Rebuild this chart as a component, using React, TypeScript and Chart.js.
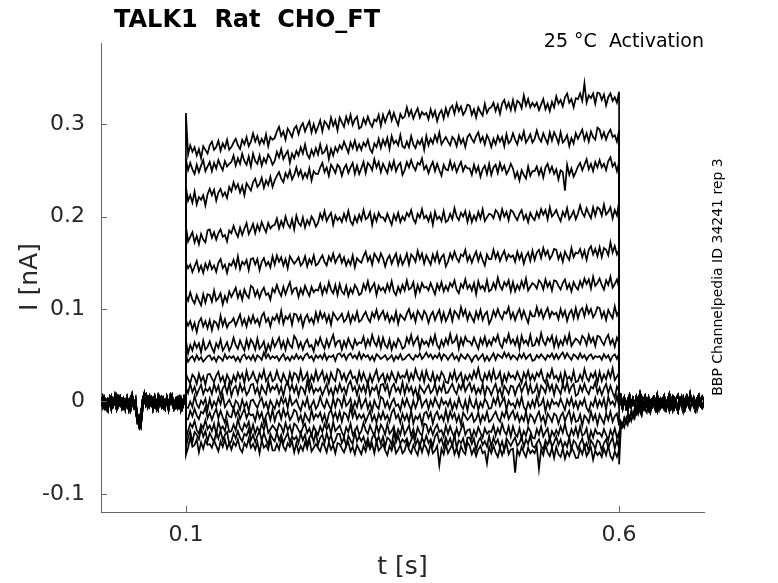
import React, { useEffect, useRef } from "react";
import { Chart, registerables } from "chart.js";

Chart.register(...registerables);

// ---------- text ----------
const TITLE = "TALK1  Rat  CHO_FT";
const CONDITION = "25 °C  Activation";
const NOTE = "BBP Channelpedia ID 34241 rep 3";
const X_TITLE = "t [s]";
const Y_TITLE = "I [nA]";

// ---------- axes ----------
const X_TICKS = [0.1, 0.6];
const Y_TICKS = [-0.1, 0, 0.1, 0.2, 0.3];
const X_RANGE = [0.002, 0.698];
const Y_RANGE = [-0.1195, 0.3876];

// ---------- sampling (seconds) ----------
const PRE_START = 0.002;
const PRE_STEP = 0.002; // 50 samples up to 0.100 s
const STEP_ON = 0.1;
const STEP_DT = 0.0025; // 200 samples from 0.1025 s to 0.600 s
const POST_START = 0.6;
const POST_STEP = 0.002; // 50 samples up to 0.698 s

// ---------- holding current before the step (pA) ----------
const PRE_A = [3, -4, 1, -7, 2, -2, 5, -5, 0, -8, 4, -3, 2, -6, 1, -1, -9, 3, -4, 0, -6, -14, -24, -12, -3, 6, -2, 4, -5, 1, -3, 5, -7, 2, -1, 4, -6, 0, 3, -4, 6, -2, -8, 1, 4, -5, 2, -3, 5, 0];
const PRE_B = [-2, 5, -6, 1, -3, 4, -8, 2, -1, 6, -5, 0, -7, 3, -2, 5, -4, -10, 1, -6, 2, -19, -27, -16, 2, 9, -4, 1, 6, -3, 3, -5, 0, -8, 4, -2, 1, -7, 5, -3, -1, 6, -4, 2, -6, 3, -9, 1, -2, 4];
const PRE_C = [1, -6, 4, -2, -9, 3, 0, -4, 6, -7, -1, 5, -3, 2, -8, 4, 0, -5, 7, -2, -9, -22, -18, -26, -8, 3, 7, -6, 0, 4, -8, 2, -4, 6, -1, -6, 3, -3, 1, -9, 2, 5, -2, -6, 3, -1, 4, -7, 0, 2];

// ---------- current after the step (pA) ----------
const POST_A = [0, 6, -3, 4, -6, 2, 7, -2, 3, -5, 5, -1, 8, -4, 1, 6, -3, 4, -7, 2, 5, -2, 7, -5, 3, 0, 6, -4, 2, 8, -3, 4, -6, 3, 7, -1, 5, -4, 2, 6, -3, 8, -2, 4, -5, 3, 7, -1, 5, 1];
const POST_B = [-4, -1, -8, 2, -5, -10, 0, -6, 3, -3, -9, 1, -4, 4, -7, -1, 2, -8, 0, -5, 3, -3, -10, 1, -6, 2, -4, -9, 0, 4, -7, -2, 3, -5, -11, 0, -3, 4, -8, -1, 2, -6, -3, 3, -9, -2, 1, -5, -7, 0];
const POST_C = [-68, -30, -24, -28, -19, -25, -16, -21, -12, -18, -9, -14, -6, -11, -3, -8, -12, -2, -7, 1, -5, -10, -1, -6, 2, -4, -9, 0, -5, -11, -2, -7, 1, -4, -8, 0, -6, -12, -3, 2, -5, -9, -1, -6, 0, -10, -3, 1, -7, -4];
const POST_D = [-40, -22, -27, -18, -23, -14, -20, -11, -17, -8, -13, -5, -10, -15, -4, -9, -1, -6, -12, -3, 1, -7, -2, -9, 0, -5, 3, -8, -2, -6, 2, -10, -4, 0, -7, -1, 4, -5, -9, -2, 1, -6, -3, 3, -8, -1, 2, -4, -7, 1];

// ---------- onset transient at t = 0.1 s, one per sweep (pA) ----------
const SPIKES = [312, 262, 232, 190, 150, 115, 88, 66, 50, 30, 15, -6, -20, -40, -50, -58];

// ---------- current during the voltage step, one array per sweep (pA) ----------
const STEP_1 = [267,277,270,275,266,273,263,276,272,268,277,281,272,275,282,271,279,274,283,272,275,280,284,277,273,283,278,286,276,281,290,281,287,278,284,279,289,276,286,283,285,292,297,287,292,283,295,291,286,295,298,289,297,301,292,298,303,291,300,291,297,304,292,303,300,295,307,298,304,293,307,302,297,308,301,310,299,305,308,295,297,306,300,308,301,297,305,303,310,298,310,302,309,314,304,312,305,299,311,306,308,318,309,315,306,312,317,307,313,310,312,305,316,308,314,303,311,315,306,317,309,317,320,311,322,314,319,310,314,321,320,310,316,307,318,313,309,322,312,317,318,323,314,321,311,322,326,317,323,315,326,315,325,323,317,331,320,327,318,323,319,323,315,321,327,316,322,314,324,318,330,322,326,319,329,333,323,327,318,328,327,333,325,344,323,331,328,333,322,334,333,326,332,320,329,333,325,329,323,335];
const STEP_2 = [250,258,251,246,256,248,255,261,249,254,259,249,258,252,261,255,250,260,254,257,259,266,255,263,257,268,260,256,265,254,268,260,257,266,255,263,258,267,263,256,260,270,264,273,262,267,271,258,268,263,271,266,275,268,278,267,263,272,266,274,267,278,268,270,276,262,273,266,275,270,277,273,281,275,269,280,274,282,272,278,272,280,276,283,273,269,279,275,284,274,283,277,285,273,287,279,282,277,288,276,274,281,275,287,278,274,282,278,284,272,287,277,284,279,288,281,291,278,282,286,281,277,286,283,276,287,279,284,275,286,289,284,280,287,291,281,286,278,288,283,275,284,278,287,281,286,276,289,279,282,290,283,278,288,283,292,280,284,289,280,284,293,285,281,290,284,279,291,282,291,286,279,291,280,283,288,276,285,279,290,284,289,294,283,290,281,292,286,283,296,294,285,291,283,290,294,286,288,281,293];
const STEP_3 = [217,223,215,227,213,221,218,223,212,224,230,223,229,217,226,230,222,226,220,232,227,237,230,235,226,233,223,236,232,228,237,241,232,235,242,231,239,234,243,232,239,244,248,241,237,247,242,250,240,245,253,244,250,241,247,242,252,239,249,246,246,253,258,248,253,244,256,252,247,256,253,244,252,256,247,253,258,246,255,246,252,259,247,258,255,250,262,253,259,248,257,252,247,258,251,260,249,255,258,245,250,259,253,261,254,250,258,256,263,251,255,247,254,259,249,257,250,244,256,251,250,260,251,257,248,254,259,249,255,252,252,245,256,248,254,243,251,255,246,257,245,253,256,247,258,250,255,246,250,257,252,242,248,239,250,245,241,254,244,249,249,254,245,252,242,253,257,248,254,246,251,240,250,248,228,256,245,252,243,248,254,258,250,256,262,251,257,249,259,253,261,253,257,250,260,264,254,258,249,259];
const STEP_4 = [173,178,183,172,179,170,181,175,172,185,186,177,183,175,182,186,178,180,173,185,182,190,183,178,188,180,187,193,181,186,192,182,191,185,194,188,183,193,187,190,191,198,187,195,189,200,192,188,197,186,201,193,190,199,188,196,191,200,196,189,193,203,197,206,195,200,204,191,201,196,199,194,203,196,206,195,191,200,194,202,196,207,197,199,205,191,202,195,204,199,199,195,203,197,191,202,196,204,194,200,196,204,200,207,197,193,203,199,208,198,201,195,203,191,205,197,200,195,206,194,196,203,197,209,200,196,204,200,206,194,204,194,201,196,205,198,208,195,199,203,202,198,207,204,197,208,200,205,196,207,205,200,196,203,207,197,202,194,204,199,196,205,199,208,202,207,197,210,200,203,207,200,195,205,200,209,197,201,206,197,203,212,204,200,209,203,198,210,201,210,208,201,213,202,205,210,198,207,201,216];
const STEP_5 = [144,148,140,146,152,141,147,139,149,143,151,143,147,140,150,154,144,148,139,149,147,153,145,157,143,151,148,153,142,154,155,148,154,142,151,155,147,151,145,157,148,158,151,156,147,154,144,157,153,149,152,156,147,150,157,146,154,149,158,147,149,154,158,151,147,157,152,160,150,155,159,150,156,147,153,148,158,145,155,152,150,157,162,152,157,148,160,156,151,160,155,146,154,158,149,155,160,148,157,148,153,160,148,159,156,151,163,154,160,149,158,153,148,159,152,161,150,156,159,146,151,160,154,162,155,151,159,157,164,152,158,150,157,162,152,160,153,147,159,154,154,164,155,161,152,158,163,153,159,156,158,151,162,154,160,149,157,161,152,163,153,161,164,155,166,158,163,154,158,165,164,154,160,151,162,157,153,166,156,161,160,165,156,163,153,164,168,159,165,157,167,156,166,164,158,172,161,168,159,164];
const STEP_6 = [109,118,110,106,115,109,104,116,107,116,115,108,120,109,112,117,105,114,108,119,113,118,123,112,119,110,121,115,112,125,123,114,120,112,119,123,115,117,110,122,118,126,119,114,124,116,123,129,117,122,123,113,122,116,125,119,114,124,118,121,120,127,116,124,118,129,121,117,126,115,127,119,116,125,114,122,117,126,122,115,117,127,121,130,119,124,128,115,125,120,123,118,127,120,130,119,115,124,118,126,120,131,121,123,129,115,126,119,128,123,124,120,128,122,116,127,121,129,119,125,120,128,124,131,121,117,127,123,132,122,126,120,128,116,130,122,125,120,131,119,121,128,122,134,125,121,129,125,131,119,129,119,126,121,130,123,133,120,124,128,126,122,131,128,121,132,124,129,120,131,130,125,121,128,132,122,127,119,129,124,121,130,124,133,127,132,122,135,125,128,133,126,121,131,126,135,123,127,132,123];
const STEP_7 = [82,87,78,85,75,86,90,81,87,79,88,77,87,85,79,93,82,89,80,85,86,90,82,88,94,83,89,81,91,85,93,85,89,82,92,96,86,90,81,91,88,94,86,98,84,92,89,94,83,95,94,87,93,81,90,94,86,90,84,96,87,97,90,95,86,93,83,96,92,88,91,95,86,89,96,85,93,88,97,86,88,93,97,90,86,96,91,99,89,94,98,89,95,86,92,87,97,84,94,91,88,95,100,90,95,86,98,94,89,98,94,85,93,97,88,94,99,87,96,87,92,99,87,98,95,90,102,93,99,88,96,91,86,97,90,99,88,94,97,84,89,98,92,100,93,89,97,95,102,90,96,88,95,100,90,98,91,85,97,92,92,102,93,99,90,96,101,91,97,94,96,89,100,92,98,87,95,99,90,101,90,98,101,92,103,95,100,91,95,102,101,91,97,88,99,94,90,103,93,98];
const STEP_8 = [52,61,55,64,58,63,53,66,56,59,65,58,53,63,58,67,55,59,64,55,60,69,61,57,66,60,55,67,58,67,63,56,68,57,60,65,53,62,56,67,59,64,69,58,65,56,67,61,58,71,67,58,64,56,63,67,59,61,54,66,61,69,62,57,67,59,66,72,60,65,66,56,65,59,68,62,57,67,61,64,63,70,59,67,61,72,64,60,69,58,69,61,58,67,56,64,59,68,64,57,59,69,63,72,61,66,70,57,67,62,65,60,69,62,72,61,57,66,60,68,62,73,63,65,71,57,68,61,70,65,65,61,69,63,57,68,62,70,60,66,61,69,65,72,62,58,68,64,73,63,67,61,69,57,71,63,66,61,72,60,61,68,62,74,65,61,69,65,71,59,69,59,66,61,70,63,73,60,64,68,66,62,71,68,61,72,64,69,60,71,70,65,61,68,72,62,67,59,69,64];
const STEP_9 = [43,47,49,44,50,45,48,43,46,49,50,45,48,43,49,47,44,51,46,49,47,49,44,48,43,49,51,46,49,45,50,44,50,48,45,53,47,51,46,49,47,49,44,48,51,45,48,44,49,46,51,46,49,45,50,52,47,49,44,50,47,50,46,52,45,49,48,50,44,51,52,48,51,45,50,52,47,50,46,53,46,51,48,50,45,49,44,51,49,46,48,50,45,47,50,44,49,46,51,45,46,49,51,47,45,50,48,52,46,49,53,48,51,46,50,47,52,45,51,49,45,49,52,46,49,44,51,48,46,51,48,43,48,50,45,48,51,44,49,44,48,52,45,51,49,47,53,48,52,46,50,48,45,51,47,52,46,49,51,44,45,50,47,51,48,45,50,48,52,46,51,46,50,53,47,52,48,45,51,49,46,52,47,50,45,49,51,46,49,48,49,45,51,47,50,44,49,51,46,52];
const STEP_10 = [24,20,29,26,19,30,22,27,18,29,30,25,21,28,32,22,27,19,29,24,19,28,22,31,25,30,20,33,23,26,32,25,20,30,25,34,22,26,31,22,24,33,25,21,30,24,19,31,22,31,29,22,34,23,26,31,19,28,22,33,23,28,33,22,29,20,31,25,22,35,33,24,30,22,29,33,25,27,20,32,23,31,24,19,29,21,28,34,22,27,30,20,29,23,32,26,21,31,25,28,26,33,22,30,24,35,27,23,32,21,33,25,22,31,20,28,23,32,28,21,20,30,24,33,22,27,31,18,28,23,29,24,33,26,36,25,21,30,24,32,23,34,24,26,32,18,29,22,31,26,28,24,32,26,20,31,25,33,23,29,23,31,27,34,24,20,30,26,35,25,28,22,30,18,32,24,27,22,33,21,22,29,23,35,26,22,30,26,32,20,32,22,29,24,33,26,36,23,27,31];
const STEP_11 = [9,19,10,16,7,13,18,8,14,11,15,8,19,11,17,6,14,18,9,20,6,14,17,8,19,11,16,7,11,18,19,9,15,6,17,12,8,21,11,16,13,18,9,16,6,17,21,12,18,10,17,6,16,14,8,22,11,18,9,14,11,15,7,13,19,8,14,6,16,10,19,11,15,8,18,22,12,16,7,17,11,17,9,21,7,15,12,17,6,18,19,12,18,6,15,19,11,15,9,21,8,18,11,16,7,14,4,17,13,9,14,18,9,12,19,8,16,11,20,9,10,15,19,12,8,18,13,21,11,16,20,11,17,8,14,9,19,6,16,13,7,14,19,9,14,5,17,13,8,17,16,7,15,19,10,16,21,9,18,9,11,18,6,17,14,9,21,12,18,7,18,13,8,19,12,21,10,16,19,6,8,17,11,19,12,8,16,14,21,9,15,7,14,19,9,17,10,4,16,11];
const STEP_12 = [-7,0,-6,6,-3,-7,1,-3,3,-9,3,-7,0,-5,4,-3,7,-6,-2,2,-4,-8,1,-2,-9,2,-6,-1,-10,1,2,-3,-7,0,4,-6,-1,-9,1,-4,-8,1,-5,4,-2,3,-7,6,-4,-1,2,-5,-10,0,-5,4,-8,-4,1,-8,-4,5,-3,-7,2,-4,-9,3,-6,3,1,-6,6,-5,-2,3,-9,0,-6,5,-7,-2,3,-8,-1,-10,1,-5,-8,5,3,-6,0,-8,-1,3,-5,-3,-10,2,-5,3,-4,-9,1,-7,0,6,-6,-1,2,-8,1,-5,4,-2,-7,3,-3,0,-5,2,-9,-1,-7,4,-4,-8,1,-10,4,-4,-7,2,-9,-1,-6,3,-1,-8,-7,3,-3,6,-5,0,4,-9,1,-4,-2,-7,2,-5,5,-6,-10,-1,-7,1,-6,5,-5,-3,3,-11,0,-7,2,-3,-1,-5,3,-3,-9,2,-4,4,-6,0,-8,0,-4,3,-7,-11,-1,-5,4,-6,1,-5,3,-9,5,-3,0,-5,6,-6];
const STEP_13 = [-19,-10,-16,-8,-15,-19,-11,-13,-6,-18,-12,-20,-13,-8,-18,-10,-17,-23,-11,-16,-17,-7,-16,-10,-19,-13,-8,-18,-12,-15,-14,-21,-10,-18,-12,-23,-15,-11,-20,-9,-21,-13,-10,-19,-8,-16,-11,-20,-16,-9,-11,-21,-15,-24,-13,-18,-22,-9,-19,-14,-17,-12,-21,-14,-24,-13,-9,-18,-12,-20,-11,-22,-12,-14,-20,-6,-17,-10,-19,-14,-18,-14,-22,-16,-10,-21,-15,-23,-13,-19,-11,-19,-15,-22,-12,-8,-18,-14,-23,-13,-20,-14,-22,-10,-24,-16,-19,-14,-25,-13,-11,-18,-12,-24,-15,-11,-19,-15,-21,-9,-21,-11,-18,-13,-22,-15,-25,-12,-16,-20,-17,-13,-22,-19,-12,-23,-15,-20,-11,-22,-20,-15,-11,-18,-22,-12,-17,-9,-19,-14,-10,-19,-13,-22,-16,-21,-11,-24,-14,-17,-23,-16,-11,-21,-16,-25,-13,-17,-22,-13,-15,-24,-16,-12,-21,-15,-10,-22,-13,-22,-21,-14,-26,-15,-18,-23,-11,-20,-14,-25,-14,-19,-24,-13,-20,-11,-22,-16,-13,-26];
const STEP_14 = [-32,-24,-28,-21,-31,-35,-25,-29,-20,-30,-26,-32,-24,-36,-22,-30,-27,-32,-21,-33,-32,-25,-31,-19,-28,-32,-24,-28,-22,-34,-25,-35,-28,-33,-24,-31,-21,-34,-30,-26,-29,-33,-24,-27,-34,-23,-31,-26,-35,-24,-26,-31,-35,-28,-24,-34,-29,-37,-27,-32,-36,-27,-33,-24,-30,-25,-35,-22,-32,-29,-26,-33,-38,-28,-33,-24,-36,-32,-27,-36,-32,-23,-31,-35,-26,-32,-37,-25,-34,-25,-29,-36,-24,-35,-32,-27,-39,-30,-36,-25,-36,-31,-26,-37,-30,-39,-28,-34,-37,-24,-25,-34,-28,-36,-29,-25,-33,-31,-38,-26,-35,-27,-34,-39,-29,-37,-30,-24,-36,-31,-30,-40,-31,-37,-28,-34,-39,-29,-35,-32,-33,-26,-37,-29,-35,-24,-32,-36,-27,-38,-27,-35,-38,-29,-40,-32,-37,-28,-32,-39,-40,-30,-36,-27,-38,-33,-29,-42,-32,-37,-31,-36,-27,-34,-24,-35,-39,-30,-36,-28,-38,-27,-37,-35,-29,-43,-32,-39,-30,-35,-34,-38,-30,-36,-42,-31,-37,-29,-39,-33];
const STEP_15 = [-39,-32,-44,-33,-36,-41,-29,-38,-32,-43,-34,-39,-44,-33,-40,-31,-42,-36,-33,-46,-43,-34,-40,-32,-39,-43,-35,-37,-30,-42,-36,-44,-37,-32,-42,-34,-41,-47,-35,-40,-43,-33,-42,-36,-45,-39,-34,-44,-38,-41,-38,-45,-34,-42,-36,-47,-39,-35,-44,-33,-47,-39,-36,-45,-34,-42,-37,-46,-42,-35,-35,-45,-39,-48,-37,-42,-46,-33,-43,-38,-43,-38,-47,-40,-50,-39,-35,-44,-38,-46,-38,-49,-39,-41,-47,-33,-44,-37,-46,-41,-44,-40,-48,-42,-36,-47,-41,-49,-39,-45,-37,-45,-41,-48,-38,-34,-44,-40,-49,-39,-46,-40,-48,-36,-50,-42,-45,-40,-51,-39,-39,-46,-40,-52,-43,-39,-47,-43,-49,-37,-49,-39,-46,-41,-50,-43,-53,-40,-44,-48,-43,-39,-48,-45,-38,-49,-41,-46,-37,-48,-50,-45,-41,-48,-52,-42,-47,-39,-49,-44,-38,-47,-41,-50,-44,-49,-39,-52,-42,-45,-52,-45,-40,-50,-45,-54,-42,-46,-51,-42,-44,-53,-45,-41,-50,-44,-39,-51,-42,-51];
const STEP_16 = [-50,-39,-49,-47,-41,-55,-44,-51,-42,-47,-46,-50,-42,-48,-54,-43,-49,-41,-51,-45,-52,-44,-48,-41,-51,-55,-45,-49,-40,-50,-46,-52,-44,-56,-42,-50,-47,-52,-41,-53,-53,-46,-52,-40,-49,-53,-45,-49,-43,-55,-45,-55,-48,-53,-44,-51,-41,-54,-50,-46,-50,-54,-45,-48,-55,-44,-52,-47,-56,-45,-46,-51,-55,-48,-44,-54,-49,-57,-47,-52,-57,-48,-54,-45,-51,-46,-56,-43,-53,-50,-46,-53,-58,-48,-53,-44,-56,-52,-47,-56,-53,-44,-52,-56,-47,-53,-58,-46,-55,-46,-50,-57,-45,-56,-53,-48,-69,-51,-57,-46,-56,-51,-46,-57,-50,-59,-48,-54,-57,-44,-48,-57,-51,-59,-52,-48,-56,-54,-67,-49,-56,-48,-55,-60,-50,-58,-51,-45,-57,-52,-51,-77,-52,-58,-49,-55,-60,-50,-56,-53,-56,-49,-73,-52,-58,-47,-55,-59,-50,-61,-49,-57,-60,-51,-62,-54,-59,-50,-54,-61,-61,-51,-57,-48,-59,-54,-50,-63,-53,-58,-55,-60,-51,-58,-48,-59,-63,-54,-60,-52];

const STEPS = [STEP_1, STEP_2, STEP_3, STEP_4, STEP_5, STEP_6, STEP_7, STEP_8, STEP_9, STEP_10, STEP_11, STEP_12, STEP_13, STEP_14, STEP_15, STEP_16];
const PRES = [PRE_A, PRE_B, PRE_C];
const POSTS = [POST_A, POST_B, POST_A, POST_B, POST_A, POST_B, POST_A, POST_B, POST_A, POST_B, POST_A, POST_B, POST_A, POST_D, POST_D, POST_C];

const FONT = "'DejaVu Sans', 'Liberation Sans', sans-serif";

function buildSweep(k: number) {
  const pts: { x: number; y: number }[] = [];
  const pre = PRES[k % PRES.length];
  pre.forEach((v, i) => pts.push({ x: PRE_START + PRE_STEP * i, y: v / 1000 }));
  pts.push({ x: STEP_ON, y: SPIKES[k] / 1000 });
  STEPS[k].forEach((v, i) => pts.push({ x: STEP_ON + STEP_DT * (i + 1), y: v / 1000 }));
  POSTS[k].forEach((v, i) => pts.push({ x: POST_START + POST_STEP * i, y: v / 1000 }));
  return pts;
}

const overlayPlugin = {
  id: "overlay",
  afterDraw(chart: any) {
    const { ctx, chartArea: a, scales } = chart;
    ctx.save();
    // inward tick marks
    ctx.strokeStyle = "#666666";
    ctx.lineWidth = 1;
    ctx.beginPath();
    Y_TICKS.forEach((v) => {
      const y = Math.round(scales.y.getPixelForValue(v)) + 0.5;
      ctx.moveTo(a.left, y);
      ctx.lineTo(a.left + 6, y);
    });
    X_TICKS.forEach((v) => {
      const x = Math.round(scales.x.getPixelForValue(v)) + 0.5;
      ctx.moveTo(x, a.bottom);
      ctx.lineTo(x, a.bottom - 6);
    });
    ctx.stroke();

    // title
    ctx.fillStyle = "#000000";
    ctx.textBaseline = "alphabetic";
    ctx.textAlign = "left";
    ctx.font = `bold 24px ${FONT}`;
    ctx.fillText(TITLE, 114, 27);

    // condition label
    ctx.font = `19px ${FONT}`;
    ctx.textAlign = "right";
    ctx.fillText(CONDITION, a.right, 47);

    // axis titles
    ctx.fillStyle = "#262626";
    ctx.font = `25px ${FONT}`;
    ctx.textAlign = "center";
    ctx.fillText(X_TITLE, (a.left + a.right) / 2, 574);

    ctx.save();
    ctx.translate(37, 277);
    ctx.rotate(-Math.PI / 2);
    ctx.fillText(Y_TITLE, 0, 0);
    ctx.restore();

    // right-hand note
    ctx.save();
    ctx.fillStyle = "#000000";
    ctx.font = `14px ${FONT}`;
    ctx.translate(722, 277);
    ctx.rotate(-Math.PI / 2);
    ctx.fillText(NOTE, 0, 0);
    ctx.restore();

    ctx.restore();
  },
};

export default function App() {
  const ref = useRef<HTMLCanvasElement | null>(null);

  useEffect(() => {
    if (!ref.current) return;
    Chart.defaults.font.family = FONT;
    const datasets = STEPS.map((_, k) => ({
      label: `sweep ${k + 1}`,
      data: buildSweep(k),
      borderColor: "#000000",
      borderWidth: 1.7,
      pointRadius: 0,
      tension: 0,
      fill: false,
    }));
    const chart = new Chart(ref.current, {
      type: "line",
      data: { datasets },
      plugins: [overlayPlugin],
      options: {
        animation: false,
        responsive: true,
        maintainAspectRatio: false,
        devicePixelRatio: 1,
        parsing: false,
        normalized: true,
        layout: { padding: { top: 43, right: 74, left: 0, bottom: 0 } },
        plugins: {
          legend: { display: false },
          tooltip: { enabled: false },
          title: { display: false },
        },
        events: [],
        scales: {
          x: {
            type: "linear",
            min: X_RANGE[0],
            max: X_RANGE[1],
            afterFit: (s: any) => {
              s.height = 71;
            },
            afterBuildTicks: (s: any) => {
              s.ticks = X_TICKS.map((v) => ({ value: v }));
            },
            grid: { display: false, drawTicks: false },
            border: { display: true, color: "#666666", width: 1 },
            ticks: {
              font: { family: FONT, size: 22 },
              color: "#262626",
              padding: 10,
              maxRotation: 0,
              autoSkip: false,
              callback: (v: any) => String(v),
            },
          },
          y: {
            type: "linear",
            min: Y_RANGE[0],
            max: Y_RANGE[1],
            afterFit: (s: any) => {
              s.width = 101;
            },
            afterBuildTicks: (s: any) => {
              s.ticks = Y_TICKS.map((v) => ({ value: v }));
            },
            grid: { display: false, drawTicks: false },
            border: { display: true, color: "#666666", width: 1 },
            ticks: {
              font: { family: FONT, size: 22 },
              color: "#262626",
              padding: 16,
              autoSkip: false,
              callback: (v: any) => String(Math.round(v * 10) / 10),
            },
          },
        },
      } as any,
    });
    return () => chart.destroy();
  }, []);

  return (
    <div style={{ position: "absolute", left: 0, top: 0, width: 778, height: 583, background: "#ffffff" }}>
      <canvas ref={ref} />
    </div>
  );
}
